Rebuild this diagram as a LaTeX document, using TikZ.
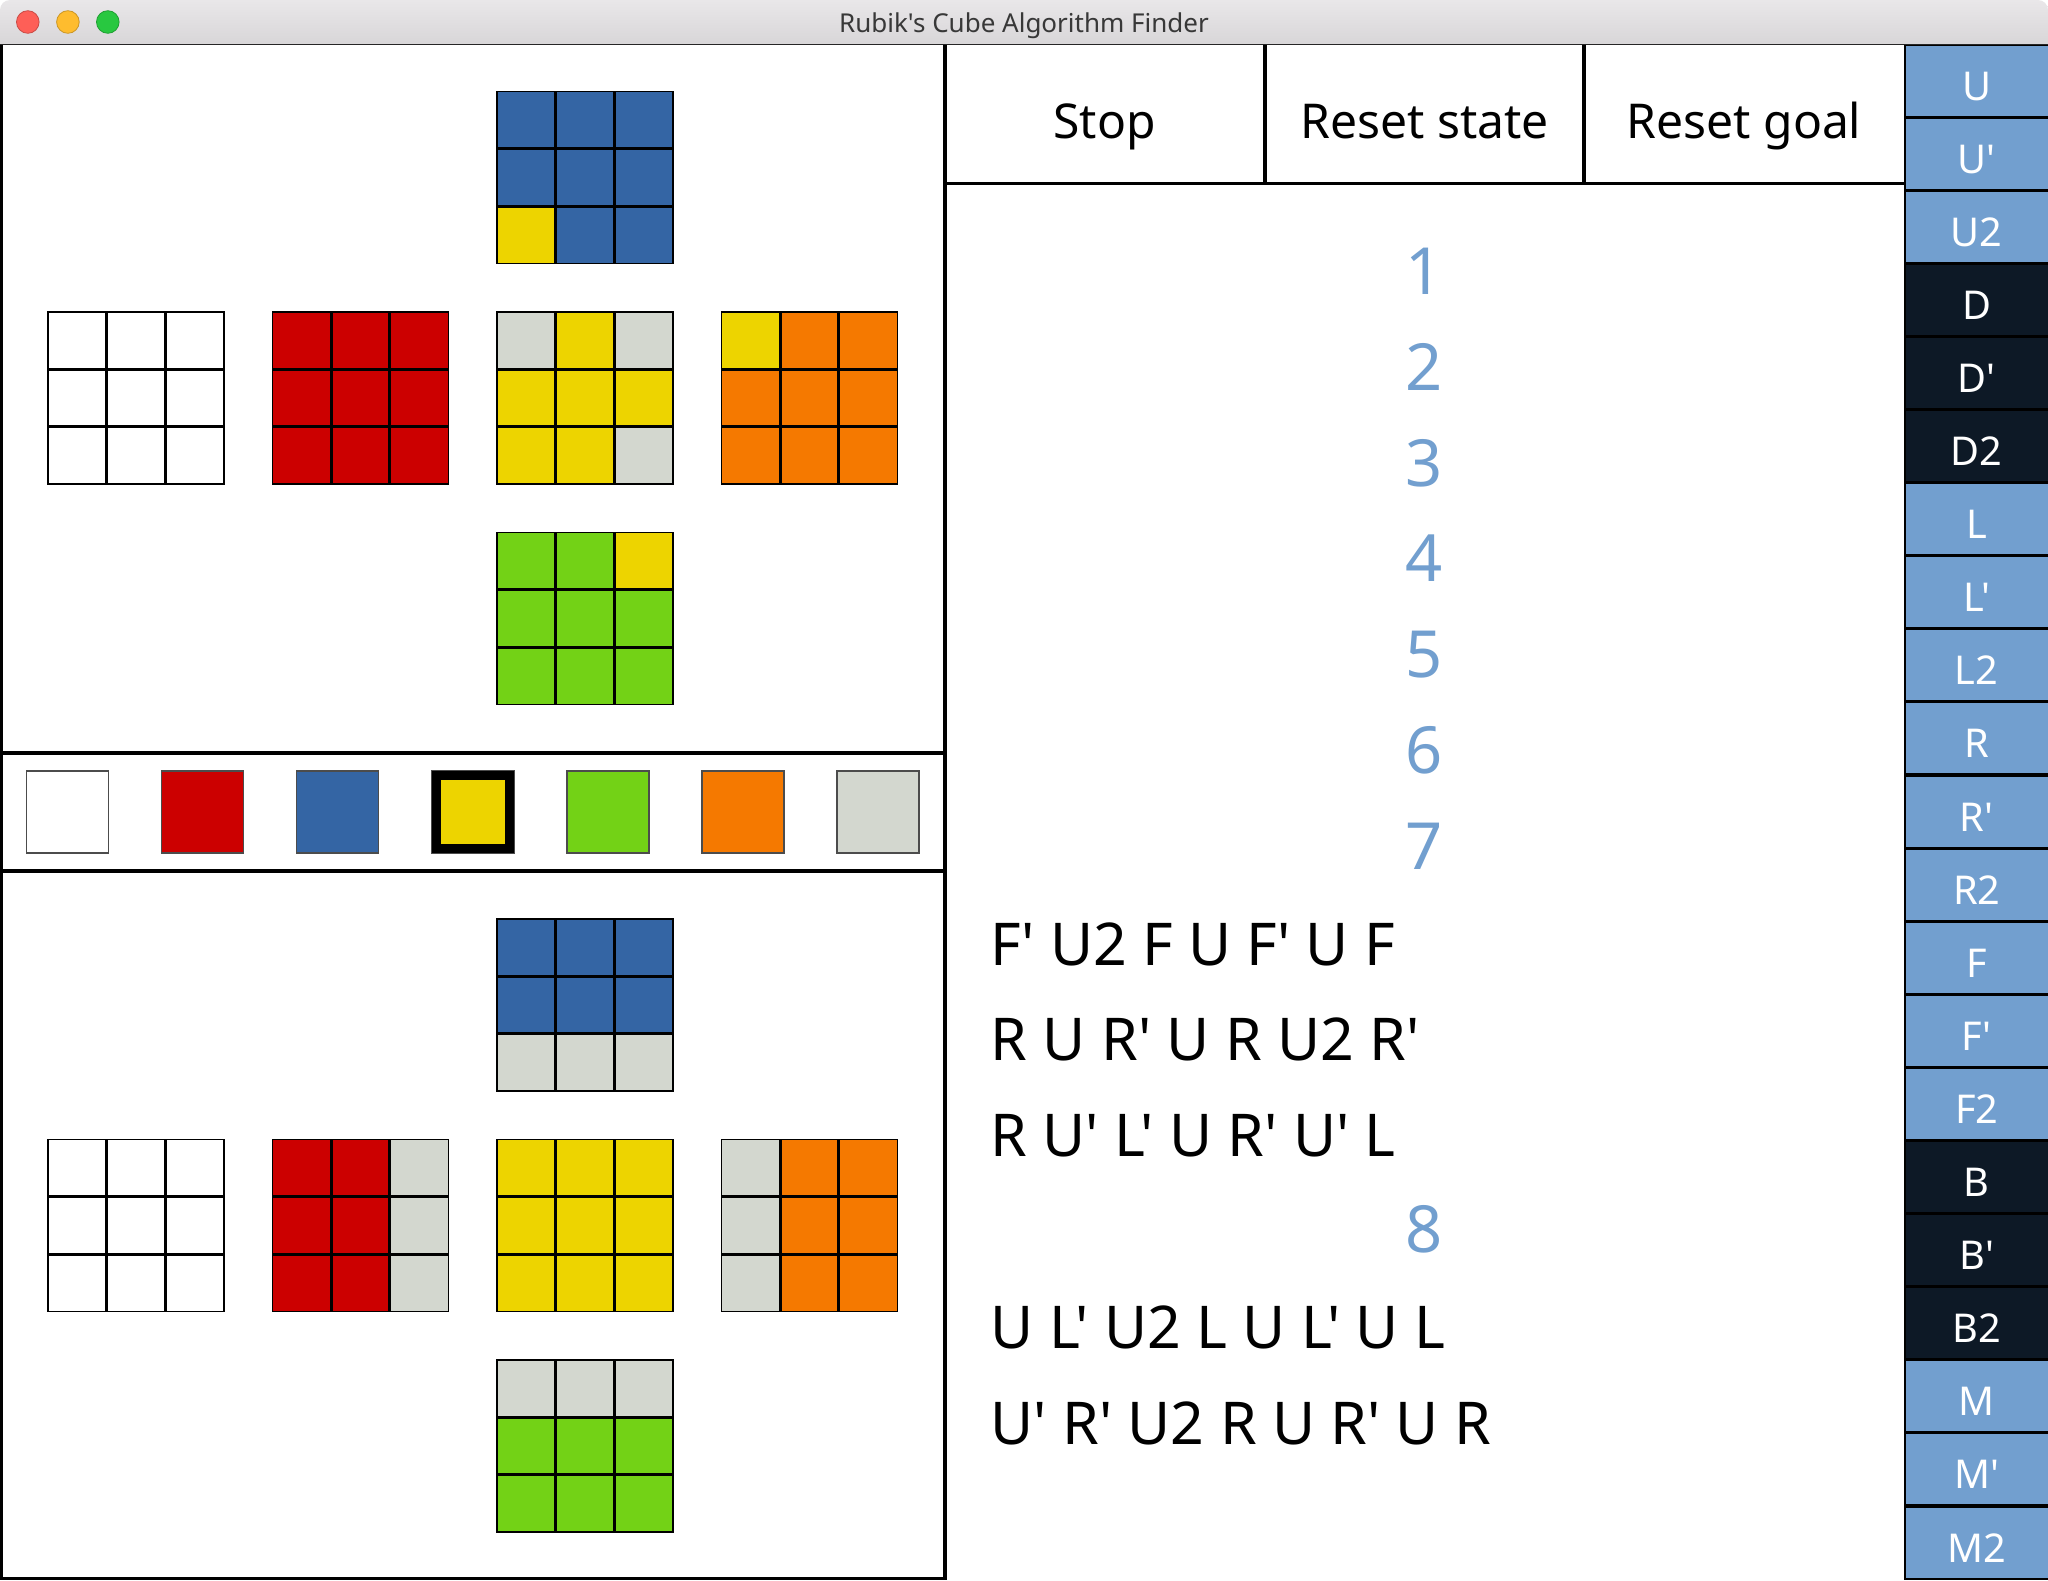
\documentclass[tikz,border=0pt]{standalone}
\usepackage{fontspec}
\newfontfamily\uif{Noto Sans}
\definecolor{tred}{HTML}{CC0000}
\definecolor{tblue}{HTML}{3465A4}
\definecolor{tyellow}{HTML}{EDD400}
\definecolor{tgreen}{HTML}{73D216}
\definecolor{torange}{HTML}{F57900}
\definecolor{tgray}{HTML}{D3D7CF}
\definecolor{mlight}{HTML}{729FCF}
\definecolor{mdark}{HTML}{0D1926}
\definecolor{tbtop}{HTML}{E9E7E9}
\definecolor{tbbot}{HTML}{D2D0D2}
\definecolor{lred}{HTML}{FE5F57}
\definecolor{lyel}{HTML}{FEBC2E}
\definecolor{lgrn}{HTML}{28C840}
\newcommand{\rubface}[3]{%
  \foreach \fc [count=\i from 0] in {#3} {
    \pgfmathtruncatemacro\col{mod(\i,3)}
    \pgfmathtruncatemacro\row{int(\i/3)}
    \fill[\fc] ({#1+\col*58.667},{#2+\row*57.333}) rectangle ++(58.667,57.333);
  }
  \draw[line width=3.2] ({#1+58.667},#2) -- ++(0,172) ({#1+117.333},#2) -- ++(0,172)
    (#1,{#2+57.333}) -- ++(176,0) (#1,{#2+114.667}) -- ++(176,0);
  \draw[line width=1.6] (#1,#2) rectangle ++(176,172);
}
\tikzset{
  btntext/.style={font=\uif\fontsize{48}{56}\selectfont, anchor=base, inner sep=0pt},
  numtext/.style={font=\uif\fontsize{65}{78}\selectfont, text=mlight, anchor=base, inner sep=0pt},
  algtext/.style={font=\uif\fontsize{59}{70}\selectfont, anchor=base west, inner sep=0pt},
  mvtext/.style={font=\uif\fontsize{39.7}{48}\selectfont, text=white, anchor=base, inner sep=0pt},
  border/.style={line width=3.4pt, black},
}
\begin{document}
\begin{tikzpicture}[x=1pt,y=-1pt]
\useasboundingbox (0,0) rectangle (2048,1580);
\fill[white] (0,0) rectangle (2048,1580);
% title bar
\shade[top color=tbtop, bottom color=tbbot, rounded corners=10pt] (0,60) -- (0,0) -- (2048,0) -- (2048,60) -- cycle;
\fill[white] (0,44) rectangle (2048,1580);
\draw[line width=1.6pt, black!85] (0,44.6) -- (2048,44.6);
\filldraw[fill=lred, draw=lred!80!black, line width=0.8pt] (27.8,22) circle (11.3);
\filldraw[fill=lyel, draw=lyel!80!black, line width=0.8pt] (67.9,22) circle (11.3);
\filldraw[fill=lgrn, draw=lgrn!80!black, line width=0.8pt] (107.8,22) circle (11.3);
\node[font=\uif\fontsize{26}{30}\selectfont, text=black!78, anchor=base, inner sep=0pt] (title) at (1024,32.3) {Rubik's Cube Algorithm Finder};
% left panel borders
\draw[border] (1.5,45) -- (1.5,1580);
\draw[border] (0,1578.3) -- (945,1578.3);
\draw[border] (945,45) -- (945,1580);
\draw[line width=4pt] (0,753) -- (945,753);
\draw[line width=4pt] (0,870.7) -- (945,870.7);
% top cube net (state)
\rubface{497}{91.5}{tblue,tblue,tblue,tblue,tblue,tblue,tyellow,tblue,tblue}
\rubface{48}{312}{white,white,white,white,white,white,white,white,white}
\rubface{272.5}{312}{tred,tred,tred,tred,tred,tred,tred,tred,tred}
\rubface{497}{312}{tgray,tyellow,tgray,tyellow,tyellow,tyellow,tyellow,tyellow,tgray}
\rubface{721.5}{312}{tyellow,torange,torange,torange,torange,torange,torange,torange,torange}
\rubface{497}{532.5}{tgreen,tgreen,tyellow,tgreen,tgreen,tgreen,tgreen,tgreen,tgreen}
% palette
\foreach \fc [count=\i from 0] in {white,tred,tblue,tyellow,tgreen,torange,tgray} {
  \filldraw[fill=\fc, draw=black!70, line width=1.4pt] ({26.5+135.1*\i},771) rectangle ++(82,82);
}
\fill[black] (432,771) rectangle ++(82,82);
\fill[tyellow] (441,780) rectangle (505,844);
% bottom cube net (goal)
\rubface{497}{919}{tblue,tblue,tblue,tblue,tblue,tblue,tgray,tgray,tgray}
\rubface{48}{1139.5}{white,white,white,white,white,white,white,white,white}
\rubface{272.5}{1139.5}{tred,tred,tgray,tred,tred,tgray,tred,tred,tgray}
\rubface{497}{1139.5}{tyellow,tyellow,tyellow,tyellow,tyellow,tyellow,tyellow,tyellow,tyellow}
\rubface{721.5}{1139.5}{tgray,torange,torange,tgray,torange,torange,tgray,torange,torange}
\rubface{497}{1360}{tgray,tgray,tgray,tgreen,tgreen,tgreen,tgreen,tgreen,tgreen}
% control buttons
\draw[border] (945,183.3) -- (1903.5,183.3);
\draw[line width=3.2pt] (1265,45) -- (1265,183.3);
\draw[line width=3.2pt] (1584,45) -- (1584,183.3);
\node[btntext] (stop) at (1104.5,138.7) {Stop};
\node[btntext] (rstate) at (1424.5,138.7) {Reset state};
\node[btntext] (rgoal) at (1744,138.7) {Reset goal};
% results
\foreach \n [count=\k from 0] in {1,2,3,4,5,6,7} {
  \node[numtext] (n\n) at (1424,{294.5+95.8*\k}) {\n};
}
\node[algtext] (a1) at (990.6,965) {F' U2 F U F' U F};
\node[algtext] (a2) at (990.6,1060.8) {R U R' U R U2 R'};
\node[algtext] (a3) at (990.6,1156.6) {R U' L' U R' U' L};
\node[numtext] (n8) at (1424,1252.5) {8};
\node[algtext] (a4) at (990.6,1348.3) {U L' U2 L U L' U L};
\node[algtext] (a5) at (990.6,1444.1) {U' R' U2 R U R' U R};
% move buttons
\fill[black] (1903.5,45) rectangle (2048,1580);
\foreach \lab/\fc [count=\i from 0] in {U/mlight,U'/mlight,U2/mlight,D/mdark,D'/mdark,D2/mdark,L/mlight,L'/mlight,L2/mlight,R/mlight,R'/mlight,R2/mlight,F/mlight,F'/mlight,F2/mlight,B/mdark,B'/mdark,B2/mdark,M/mlight,M'/mlight,M2/mlight} {
  \fill[\fc] (1905.5,{45.5+73.1*\i}) rectangle ++(142.5,70);
  \node[mvtext] (mv\i) at (1976.7,{45+73.1*\i+55}) {\lab};
}
\end{tikzpicture}
\end{document}
